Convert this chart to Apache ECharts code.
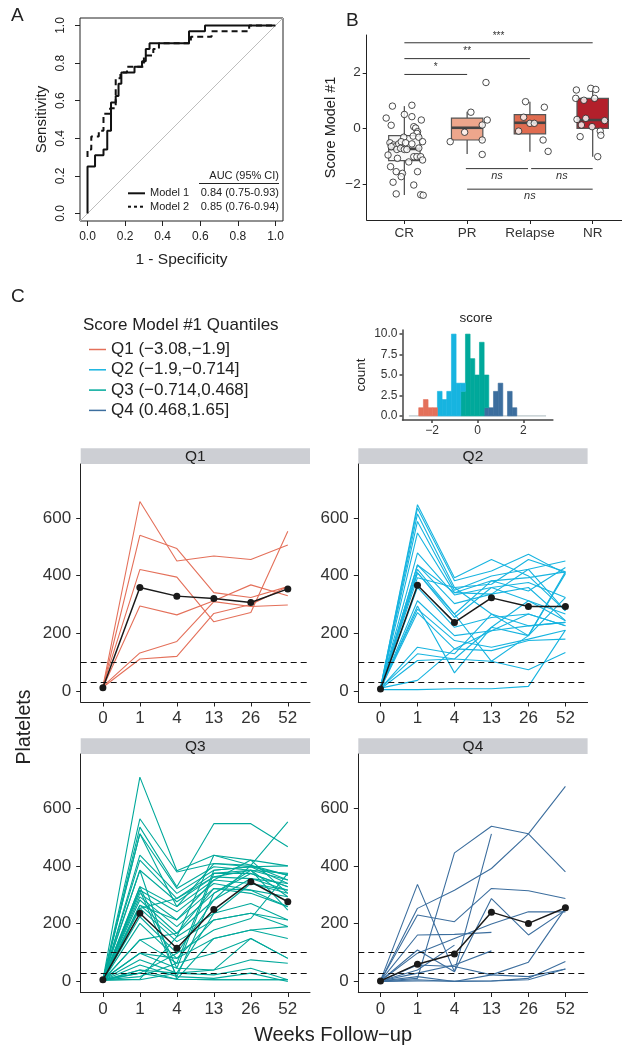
<!DOCTYPE html>
<html><head><meta charset="utf-8">
<script src="https://cdn.jsdelivr.net/npm/echarts@6/dist/echarts.min.js"></script>
<style>html,body{margin:0;padding:0;background:#fff}#c{width:622px;height:1046px}</style>
</head><body><div id="c"></div>
<script>
// ---------- Panel A: ROC ----------
const modelNames = ['Model 1', 'Model 2'];
const aucLabels = ['0.84 (0.75-0.93)', '0.85 (0.76-0.94)'];
const aucHeader = 'AUC (95% CI)';
const rocTicks = [0, 0.2, 0.4, 0.6, 0.8, 1.0];
const rocModel1 = [[0,0],[0,0.25],[0.04,0.25],[0.04,0.31],[0.085,0.31],[0.085,0.34],[0.105,0.34],[0.105,0.44],[0.125,0.44],[0.125,0.59],[0.15,0.59],[0.15,0.625],[0.165,0.625],[0.165,0.69],[0.18,0.69],[0.18,0.75],[0.25,0.75],[0.25,0.78],[0.29,0.78],[0.29,0.81],[0.31,0.81],[0.31,0.875],[0.33,0.875],[0.33,0.906],[0.54,0.906],[0.54,0.97],[0.625,0.97],[0.625,1],[1,1]];
const rocModel2 = [[0,0.3],[0,0.34],[0.02,0.34],[0.02,0.41],[0.06,0.41],[0.06,0.44],[0.085,0.44],[0.085,0.53],[0.12,0.53],[0.12,0.56],[0.15,0.56],[0.15,0.72],[0.175,0.72],[0.175,0.75],[0.21,0.75],[0.21,0.78],[0.3,0.78],[0.3,0.84],[0.35,0.84],[0.35,0.875],[0.38,0.875],[0.38,0.906],[0.55,0.906],[0.55,0.94],[0.66,0.94],[0.66,0.97],[0.86,0.97],[0.86,1],[1,1]];
const diagLine = [[-0.04,-0.04],[1.04,1.04]];

// ---------- Panel B: boxplots ----------
const responseCats = ['CR', 'PR', 'Relapse', 'NR'];
const catTicks = [1, 2, 3, 4];
const scoreTicks = [-2, 0, 2];
// [category position, lower whisker, Q1, median, Q3, upper whisker]
const boxStats = [
  [1, -2.40, -1.16, -0.74, -0.26, 0.80],
  [2, -0.92, -0.42, 0.02, 0.37, 0.60],
  [3, -0.84, -0.20, 0.20, 0.49, 0.96],
  [4, -1.02, 0.00, 0.30, 1.08, 1.40]
];
const boxColors = ['#F7F7F7', '#EDA68C', '#E06C50', '#B3202B'];
const pointsCR = [[0.81,0.80],[1.12,0.83],[0.71,0.37],[0.79,0.11],[1.00,0.50],[1.12,0.42],[1.27,0.30],[1.15,0.06],[1.18,0.01],[1.21,-0.12],[1.20,-0.18],[1.14,-0.28],[0.99,-0.32],[1.23,-0.32],[1.29,-0.48],[0.77,-0.52],[0.83,-0.60],[0.86,-0.66],[0.79,-0.66],[0.91,-0.56],[0.95,-0.48],[1.02,-0.52],[0.88,-0.76],[0.94,-0.72],[1.00,-0.76],[1.04,-0.76],[1.12,-0.56],[1.23,-0.71],[0.74,-0.96],[1.15,-1.02],[1.20,-1.02],[1.26,-1.02],[1.29,-1.14],[0.89,-1.08],[1.07,-1.21],[0.78,-1.38],[0.87,-1.56],[0.97,-1.62],[1.21,-1.56],[0.95,-1.74],[0.82,-1.94],[1.15,-2.04],[0.87,-2.36],[1.26,-2.39],[1.30,-2.41]];
const pointsPR = [[1.73,-0.48],[2.06,0.58],[1.96,-0.14],[2.30,1.65],[2.32,0.30],[2.24,0.12],[2.24,-0.42],[2.24,-0.94]];
const pointsRelapse = [[2.93,0.96],[2.90,0.40],[2.82,-0.10],[3.00,0.18],[3.07,0.18],[3.23,0.76],[3.21,-0.42],[3.29,-0.83]];
const pointsNR = [[3.74,1.38],[3.73,1.08],[3.86,1.01],[3.97,1.44],[4.05,1.40],[4.03,1.08],[3.75,0.32],[3.89,0.36],[3.82,0.12],[3.99,0.06],[4.19,0.28],[4.12,-0.10],[4.13,-0.25],[3.80,-0.30],[4.08,-1.02]];
// significance brackets: [from, to, y]
const sigBars = [[1,2,1.94],[1,3,2.51],[1,4,3.08],[1.98,2.97,-1.45],[3.02,4,-1.45],[2,4,-2.19]];
const sigLabels = ['*', '**', '***', 'ns', 'ns', 'ns'];

// ---------- Panel C: histogram ----------
const histBinStart = -2.588;
const histBinWidth = 0.205;
const histRange = [-3.02, 3.0];
const histTicksX = [-2, 0, 2];
const histTicksY = [0, 2.5, 5, 7.5, 10];
const histQ1 = [1,2,1,1,0,0,0,0,0,0,0,0,0,0,0,0,0,0,0,0,0];
const histQ2 = [0,0,0,0,3,2,3,10,4,1,0,0,0,0,0,0,0,0,0,0,0];
const histQ3 = [0,0,0,0,0,0,0,0,0,3,10,7,5,9,4,0,0,0,0,0,0];
const histQ4 = [0,0,0,0,0,0,0,0,0,0,0,0,0,0,1,1,3,4,0,3,1];

// ---------- Panel C: platelet trajectories ----------
const weeks = ['0', '1', '4', '13', '26', '52'];
const plateletTicks = [0, 200, 400, 600];
const thresholds = [100, 30];
const quantileLabels = ['Q1 (\u22123.08,\u22121.9]', 'Q2 (\u22121.9,\u22120.714]', 'Q3 (\u22120.714,0.468]', 'Q4 (0.468,1.65]'];
const facetNames = ['Q1', 'Q2', 'Q3', 'Q4'];
const qColors = ['#E4705A', '#17B4E0', '#00A99B', '#3C6E9E'];

const q1Lines = [
  [15,657,451,468,456,506],
  [14,540,494,341,324,362],
  [18,421,395,240,272,554],
  [12,295,264,313,368,330],
  [16,132,172,310,293,298],
  [13,111,120,269,300,362]
];
const q1Mean = [11,359,329,321,307,354];

const q2Lines = [
  [10,646,393,456,399,278],
  [12,634,382,416,474,407],
  [8,614,359,370,456,413],
  [10,588,349,399,422,451],
  [9,548,341,382,393,413],
  [10,479,333,359,376,324],
  [8,437,303,336,359,244],
  [10,422,267,382,347,428],
  [7,410,255,359,313,267],
  [10,393,359,267,192,407],
  [8,359,221,255,267,226],
  [10,313,192,209,226,238],
  [9,295,63,221,192,324],
  [10,284,175,152,180,211],
  [8,272,146,140,175,180],
  [9,152,129,267,226,238],
  [10,129,111,103,74,134],
  [7,106,111,221,313,244],
  [10,37,146,209,267,226],
  [5,5,8,8,16,211],
  [9,410,267,103,192,413],
  [8,437,341,336,422,278]
];
const q2Mean = [7,367,238,323,293,293];

const q3Lines = [
  [5,707,383,437,420,400],
  [6,563,379,408,402,368],
  [4,534,328,546,546,466],
  [7,511,322,397,385,351],
  [5,437,305,385,397,339],
  [6,420,287,374,374,328],
  [8,385,276,362,356,316],
  [5,328,259,351,339,305],
  [4,316,241,339,316,293],
  [6,305,213,322,305,259],
  [7,293,190,305,385,247],
  [5,282,167,282,402,552],
  [3,264,155,236,270,213],
  [6,253,138,213,236,190],
  [5,224,98,178,218,374],
  [4,201,80,149,178,149],
  [5,144,63,98,149,80],
  [6,98,46,40,75,63],
  [5,75,29,23,46,6],
  [4,57,17,11,29,0],
  [3,40,8,6,6,6],
  [6,29,98,282,356,339],
  [5,17,63,385,397,368],
  [4,8,155,437,402,351],
  [6,6,29,236,339,316],
  [3,328,46,374,385,293],
  [5,316,17,305,374,328],
  [4,264,213,351,420,305],
  [5,385,8,149,178,190],
  [7,98,80,213,236,213],
  [4,40,29,40,149,80],
  [6,511,259,408,397,400],
  [5,144,167,322,316,259],
  [4,29,8,6,6,6],
  [5,253,287,362,385,374]
];
const q3Mean = [6,236,115,249,345,276];

const q4Lines = [
  [2,253,316,391,511,675],
  [3,336,34,511,null,null],
  [1,11,445,537,511,379],
  [2,230,207,322,314,287],
  [2,161,163,170,null,null],
  [2,109,34,287,161,247],
  [2,98,149,199,241,241],
  [2,29,57,106,null,null],
  [2,17,0,23,67,253],
  [0,6,0,2,11,69],
  [0,2,2,2,6,43],
  [2,57,52,23,17,43],
  [2,40,126,null,null,null]
];
const q4Mean = [2,60,95,240,201,255];

// ---------- build ----------
const FONT = '"Liberation Sans", Arial, Helvetica, sans-serif';
const TXT = '#222';
const minus = v => String(v).replace('-', '\u2212');
const chart = echarts.init(document.getElementById('c'), null, {renderer: 'canvas', width: 622, height: 1046});

const gridBase = {outerBoundsMode: 'none', containLabel: false};
const grids = [
  Object.assign({left: 80, top: 18, width: 203, height: 203, show: true, borderColor: '#222', borderWidth: 1}, gridBase),
  Object.assign({left: 366.7, top: 35, width: 255.3, height: 185}, gridBase),
  Object.assign({left: 402.5, top: 330, width: 150.4, height: 90}, gridBase),
  Object.assign({left: 80.7, top: 464, width: 229.3, height: 238}, gridBase),
  Object.assign({left: 358.3, top: 464, width: 229.3, height: 238}, gridBase),
  Object.assign({left: 80.7, top: 754, width: 229.3, height: 238.5}, gridBase),
  Object.assign({left: 358.3, top: 754, width: 229.3, height: 238.5}, gridBase)
];

function axis(o) {
  const a = {
    type: 'value', gridIndex: o.grid, min: o.min, max: o.max,
    axisLine: {show: o.line !== false, onZero: false, lineStyle: {color: o.lineColor || '#222', width: o.lineWidth || 1}},
    axisTick: {show: true, length: o.tickLen || 4, customValues: o.ticks, lineStyle: {color: o.lineColor || '#222', width: o.lineWidth || 1}},
    axisLabel: {customValues: o.ticks, formatter: o.fmt, fontSize: o.fs, color: o.color || TXT, margin: o.margin, rotate: o.rotate || 0, fontFamily: FONT},
    splitLine: {show: false},
    axisPointer: {show: false}
  };
  if (o.name) {
    a.name = o.name; a.nameLocation = 'middle'; a.nameGap = o.nameGap;
    a.nameTextStyle = {fontSize: o.nameSize, color: TXT, fontFamily: FONT};
    if (o.nameRotate) a.nameRotate = o.nameRotate;
  }
  return a;
}

const xAxes = [
  axis({grid: 0, min: -0.04, max: 1.04, ticks: rocTicks, fmt: v => v.toFixed(1), fs: 12, margin: 10, line: false, tickLen: 5, name: '1 - Specificity', nameGap: 31, nameSize: 15.5}),
  axis({grid: 1, min: 0.4, max: 4.467, ticks: catTicks, fmt: v => responseCats[Math.round(v) - 1], fs: 13.5, margin: 6, tickLen: 4, color: '#333'}),
  axis({grid: 2, min: -3.3, max: 3.3, ticks: histTicksX, fmt: v => minus(v), fs: 12, margin: 5, tickLen: 3, lineColor: '#444', lineWidth: 1.5, color: '#333'})
];
const yAxes = [
  axis({grid: 0, min: -0.04, max: 1.04, ticks: rocTicks, fmt: v => v.toFixed(1), fs: 12, margin: 13, line: false, tickLen: 5, rotate: 90, name: 'Sensitivity', nameGap: 31, nameSize: 15, nameRotate: 90}),
  axis({grid: 1, min: -3.3, max: 3.36, ticks: scoreTicks, fmt: v => minus(v), fs: 13.5, margin: 6, tickLen: 4, color: '#333', name: 'Score Model #1', nameGap: 28, nameSize: 14.5, nameRotate: 90}),
  axis({grid: 2, min: -0.5, max: 10.5, ticks: histTicksY, fmt: v => v.toFixed(1), fs: 12, margin: 5, tickLen: 3, lineColor: '#444', lineWidth: 1.5, color: '#333', name: 'count', nameGap: 34, nameSize: 13.5, nameRotate: 90})
];
for (let q = 0; q < 4; q++) {
  xAxes.push(axis({grid: 3 + q, min: -0.6, max: 5.6, ticks: [0,1,2,3,4,5], fmt: v => weeks[Math.round(v)], fs: 17, margin: 8, tickLen: 4.5, color: '#333'}));
  yAxes.push(axis({grid: 3 + q, min: -38, max: 787, ticks: plateletTicks, fmt: v => String(v), fs: 17, margin: 9.5, tickLen: 4.5, color: '#333'}));
}

const series = [];
// Panel A
series.push({type: 'line', name: 'diag', xAxisIndex: 0, yAxisIndex: 0, data: diagLine, symbol: 'none', silent: true,
  lineStyle: {color: '#BDBDBD', width: 1}, itemStyle: {color: '#BDBDBD'}, z: 1});
series.push({type: 'line', name: modelNames[0], xAxisIndex: 0, yAxisIndex: 0, data: rocModel1, symbol: 'none', silent: true,
  lineStyle: {color: '#111', width: 2}, itemStyle: {color: '#111'}, z: 3});
series.push({type: 'line', name: modelNames[1], xAxisIndex: 0, yAxisIndex: 0, data: rocModel2, symbol: 'none', silent: true,
  lineStyle: {color: '#111', width: 2, type: [6, 4]}, itemStyle: {color: '#111'}, z: 2});

// Panel B boxes
const boxHalf = 0.25;
series.push({
  type: 'custom', name: 'boxes', xAxisIndex: 1, yAxisIndex: 1, data: boxStats, silent: true, z: 2,
  encode: {x: 0, y: [1, 2, 3, 4, 5]},
  renderItem: (params, api) => {
    const x = api.value(0), lw = api.value(1), q1 = api.value(2), med = api.value(3), q3 = api.value(4), uw = api.value(5);
    const tl = api.coord([x - boxHalf, q3]), br = api.coord([x + boxHalf, q1]);
    const top = api.coord([x, uw]), bot = api.coord([x, lw]);
    const ml = api.coord([x - boxHalf, med]), mr = api.coord([x + boxHalf, med]);
    const stroke = '#555';
    return {type: 'group', children: [
      {type: 'line', shape: {x1: top[0], y1: top[1], x2: top[0], y2: tl[1]}, style: {stroke, lineWidth: 1.3}},
      {type: 'line', shape: {x1: bot[0], y1: br[1], x2: bot[0], y2: bot[1]}, style: {stroke, lineWidth: 1.3}},
      {type: 'rect', shape: {x: tl[0], y: tl[1], width: br[0] - tl[0], height: br[1] - tl[1]}, style: {fill: boxColors[params.dataIndex], stroke, lineWidth: 1.2}},
      {type: 'line', shape: {x1: ml[0], y1: ml[1], x2: mr[0], y2: mr[1]}, style: {stroke: '#444', lineWidth: 2.6}}
    ]};
  }
});
// significance
series.push({
  type: 'custom', name: 'sig', xAxisIndex: 1, yAxisIndex: 1, data: sigBars, silent: true, z: 2, clip: false,
  encode: {x: [0, 1], y: 2},
  renderItem: (params, api) => {
    const a = api.coord([api.value(0), api.value(2)]), b = api.coord([api.value(1), api.value(2)]);
    const lab = sigLabels[params.dataIndex];
    const isNs = lab === 'ns';
    return {type: 'group', children: [
      {type: 'line', shape: {x1: a[0], y1: a[1], x2: b[0], y2: b[1]}, style: {stroke: '#333', lineWidth: 1}},
      {type: 'text', x: (a[0] + b[0]) / 2, y: isNs ? a[1] + 7 : a[1] - 2,
        style: {text: lab, fill: '#333', font: (isNs ? 'italic 11px ' : '10px ') + FONT, textAlign: 'center', textVerticalAlign: isNs ? 'middle' : 'bottom'}}
    ]};
  }
});
[pointsCR, pointsPR, pointsRelapse, pointsNR].forEach((pts, i) => {
  series.push({type: 'scatter', name: 'pts' + i, xAxisIndex: 1, yAxisIndex: 1, data: pts, symbol: 'circle', symbolSize: 6.5, silent: true, z: 5,
    itemStyle: {color: '#fff', borderColor: '#222', borderWidth: 1}});
});

// Histogram
const histCounts = [histQ1, histQ2, histQ3, histQ4];
series.push({type: 'line', name: 'histBase', xAxisIndex: 2, yAxisIndex: 2, data: [[histRange[0], 0], [histRange[1], 0]], symbol: 'none', silent: true,
  lineStyle: {color: '#A9B9BE', width: 1}, itemStyle: {color: '#A9B9BE'}, z: 1});
for (let q = 3; q >= 0; q--) {
  const d = [];
  histCounts[q].forEach((c, k) => {
    if (c > 0) {
      let base = 0;
      for (let q2 = q + 1; q2 < 4; q2++) base += histCounts[q2][k];
      d.push([histBinStart + k * histBinWidth, histBinStart + (k + 1) * histBinWidth, base, base + c]);
    }
  });
  series.push({type: 'custom', name: 'hist' + q, xAxisIndex: 2, yAxisIndex: 2, data: d, silent: true, z: 2,
    encode: {x: [0, 1], y: [2, 3]},
    renderItem: (params, api) => {
      const p0 = api.coord([api.value(0), api.value(3)]), p1 = api.coord([api.value(1), api.value(2)]);
      return {type: 'rect', shape: {x: p0[0], y: p0[1], width: p1[0] - p0[0], height: p1[1] - p0[1]},
        style: {fill: qColors[q], stroke: qColors[q], lineWidth: 0.6}};
    }
  });
}

// Facets
const facetLines = [q1Lines, q2Lines, q3Lines, q4Lines];
const facetMeans = [q1Mean, q2Mean, q3Mean, q4Mean];
for (let q = 0; q < 4; q++) {
  facetLines[q].forEach(vals => {
    series.push({type: 'line', name: quantileLabels[q], xAxisIndex: 3 + q, yAxisIndex: 3 + q, data: vals.map((v, i) => [i, v]),
      symbol: 'none', silent: true, connectNulls: false, z: 2,
      lineStyle: {color: qColors[q], width: 1.1}, itemStyle: {color: qColors[q]}});
  });
  series.push({type: 'line', name: 'mean' + q, xAxisIndex: 3 + q, yAxisIndex: 3 + q, data: facetMeans[q].map((v, i) => [i, v]),
    symbol: 'circle', symbolSize: 7, silent: true, z: 4,
    lineStyle: {color: '#1a1a1a', width: 1.5}, itemStyle: {color: '#1a1a1a'},
    markLine: {silent: true, symbol: 'none', label: {show: false}, animation: false,
      lineStyle: {color: '#111', width: 1, type: [6, 4]}, data: thresholds.map(v => ({yAxis: v}))}});
}

// Graphic texts / strips / panel A key
const graphic = [];
function txt(text, x, y, size, opts) {
  opts = opts || {};
  graphic.push({type: 'text', x, y, rotation: opts.rot || 0, silent: true,
    style: {text, fill: opts.color || TXT, font: (opts.style || '') + ' ' + size + 'px ' + FONT, textAlign: opts.align || 'left', textVerticalAlign: opts.valign || 'middle'}});
}
txt('A', 11, 16, 19);
txt('B', 346, 21, 19);
txt('C', 11, 297, 19);
// panel A key
txt(aucHeader, 279, 176, 11, {align: 'right'});
graphic.push({type: 'line', silent: true, shape: {x1: 199, y1: 183.5, x2: 279, y2: 183.5}, style: {stroke: '#222', lineWidth: 1}});
const keyRows = [193.3, 206.7];
modelNames.forEach((nm, i) => {
  graphic.push({type: 'line', silent: true, shape: {x1: 128, y1: keyRows[i], x2: 145, y2: keyRows[i]},
    style: {stroke: '#111', lineWidth: 2, lineDash: i === 1 ? [3, 3] : null}});
  txt(nm, 150, keyRows[i], 11);
  txt(aucLabels[i], 279, keyRows[i], 11, {align: 'right'});
});
txt('score', 476, 318, 13.5, {align: 'center'});
txt('Score Model #1 Quantiles', 83, 325, 17);
const stripPos = [[80.7, 448.3, 229.3], [358.3, 448.3, 229.3], [80.7, 738.3, 229.3], [358.3, 738.3, 229.3]];
stripPos.forEach((s, i) => {
  graphic.push({type: 'rect', silent: true, shape: {x: s[0], y: s[1], width: s[2], height: 15.7}, style: {fill: '#CDCFD4'}});
  txt(facetNames[i], s[0] + s[2] / 2, s[1] + 8, 15.5, {align: 'center', color: '#222'});
});
txt('Platelets', 24.5, 727, 19.5, {align: 'center', rot: Math.PI / 2});
txt('Weeks Follow\u2212up', 333, 1035, 20, {align: 'center'});

const option = {
  animation: false,
  textStyle: {fontFamily: FONT},
  grid: grids,
  xAxis: xAxes,
  yAxis: yAxes,
  legend: [
    {data: quantileLabels, orient: 'vertical', left: 84, top: 335, icon: 'rect', itemWidth: 17, itemHeight: 1.5, itemGap: 1.3, selectedMode: false,
      textStyle: {fontSize: 17, color: TXT, lineHeight: 19, fontFamily: FONT}}
  ],
  graphic: graphic,
  series: series
};
chart.setOption(option);
</script>
</body></html>
